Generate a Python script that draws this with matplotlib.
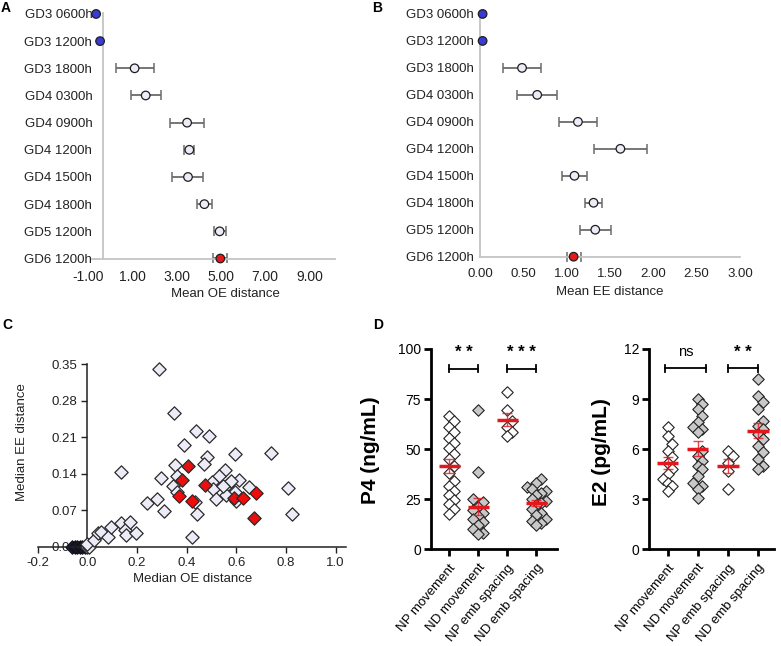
import numpy as np
import matplotlib
matplotlib.use('Agg')
import matplotlib.pyplot as plt

plt.rcParams.update({"font.family": ["Liberation Sans", "DejaVu Sans"], "font.size": 9})

W, H = 781, 646

# --- A/B: mean distances per stage ---
stages = ['GD3 0600h', 'GD3 1200h', 'GD3 1800h', 'GD4 0300h', 'GD4 0900h',
          'GD4 1200h', 'GD4 1500h', 'GD4 1800h', 'GD5 1200h', 'GD6 1200h']
stage_kind = ['pre', 'pre', 'mid', 'mid', 'mid', 'mid', 'mid', 'mid', 'mid', 'end']
oe_mean = [-0.63, -0.45, 1.11, 1.61, 3.48, 3.58, 3.52, 4.26, 4.95, 4.98]
oe_err = [0, 0, 0.86, 0.68, 0.75, 0.22, 0.70, 0.35, 0.27, 0.32]
ee_mean = [0.03, 0.03, 0.485, 0.66, 1.13, 1.62, 1.09, 1.31, 1.33, 1.08]
ee_err = [0, 0, 0.22, 0.23, 0.22, 0.31, 0.145, 0.10, 0.18, 0.08]

# --- C: median OE vs median EE per embryo ---
oe_light = [0.29, 0.35, 0.439, 0.49, 0.389, 0.596, 0.738, 0.483, 0.47, 0.354, 0.136,
            0.553, 0.362, 0.295, 0.53, 0.61, 0.502, 0.346, 0.568, 0.651, 0.809, 0.507,
            0.595, 0.558, 0.36, 0.279, 0.518, 0.599, 0.239, 0.435, 0.31, 0.442, 0.824,
            0.421, 0.58, 0.545,
            0.0, 0.008, 0.0, 0.028, 0.042, 0.055, 0.082, 0.096, 0.136, 0.15, 0.17,
            0.157, 0.197]
ee_light = [0.341, 0.256, 0.222, 0.213, 0.196, 0.177, 0.179, 0.172, 0.159, 0.156, 0.144,
            0.147, 0.136, 0.131, 0.136, 0.128, 0.124, 0.117, 0.12, 0.114, 0.113, 0.111,
            0.105, 0.10, 0.105, 0.091, 0.091, 0.088, 0.084, 0.086, 0.069, 0.063, 0.063,
            0.019, 0.126, 0.117,
            0.0, 0.0, 0.006, 0.013, 0.026, 0.029, 0.019, 0.038, 0.045, 0.032, 0.048,
            0.022, 0.026]
oe_red = [0.407, 0.383, 0.472, 0.369, 0.423, 0.592, 0.628, 0.68, 0.672]
ee_red = [0.155, 0.128, 0.119, 0.097, 0.088, 0.093, 0.093, 0.104, 0.056]
oe_dark = [-0.06, -0.05, -0.04, -0.03, -0.02, -0.01]
ee_dark = [0.0, 0.0, 0.0, 0.0, 0.0, 0.0]

# --- D: hormone levels ---
groups = ['NP movement', 'ND movement', 'NP emb spacing', 'ND emb spacing']
group_fill = ['white', '#c8c8c8', 'white', '#c8c8c8']
p4_np_mov = [66.7, 64.2, 61, 58.5, 55.8, 53.3, 50.8, 47.5, 45, 41.7, 38, 34.3, 31.7,
             29.2, 27.2, 24.7, 22.5, 20.2, 17.7]
p4_nd_mov = [69.5, 38.5, 25, 23.5, 21, 19.5, 18, 16.5, 15, 13.5, 12, 10, 8, 7.5]
p4_np_emb = [78.5, 69.5, 64, 61, 58.5, 56.5]
p4_nd_emb = [35, 33, 31, 30, 29, 28, 27, 25, 24, 23, 22, 20, 18, 17, 15, 14, 13, 12]
e2_np_mov = [7.3, 6.8, 6.3, 5.9, 5.5, 5.2, 4.8, 4.5, 4.2, 4.0, 3.8, 3.5]
e2_nd_mov = [9.0, 8.7, 8.4, 8.0, 7.6, 7.3, 7.2, 7.0, 5.9, 5.6, 5.3, 5.0, 4.8, 4.4,
             4.0, 3.8, 3.6, 3.1]
e2_np_emb = [5.9, 5.6, 5.2, 4.7, 3.6]
e2_nd_emb = [10.2, 9.2, 8.8, 8.4, 7.7, 7.4, 7.2, 6.9, 6.6, 6.2, 5.8, 5.4, 5.0, 4.8]
p4_sig = [(0, 1, '**'), (2, 3, '***')]
e2_sig = [(-0.09, 1.27, 'ns'), (2, 3, '**')]

KIND_COL = {'pre': '#3a3ad6', 'mid': '#ececf8', 'end': '#e3171c'}
RED = '#e3171c'


def box(x0, y0, x1, y1):
    # pixel rectangle -> figure fraction
    return [x0 / W, 1 - y1 / H, (x1 - x0) / W, (y1 - y0) / H]


def ftext(x, y, s, **kw):
    fig.text(x / W, 1 - y / H, s, **kw)


def swarm(vals, dy, step):
    vals = np.asarray(vals, float)
    offs = np.zeros(len(vals))
    placed = []
    for i in np.argsort(vals):
        for k in [0, 1, -1, 2, -2, 3, -3]:
            o = k * step
            if all(abs(vals[i] - vals[j]) >= dy or abs(o - offs[j]) >= step * 0.99 for j in placed):
                break
        offs[i] = o
        placed.append(i)
    return offs


fig = plt.figure(figsize=(W / 100, H / 100), dpi=100)

# ---------------- A & B ----------------
for rect, mean, err, xlim, ycross, xbounds, xticks, tsize, ypad, xlab, lab_xy in [
    (box(87.9, 12.6, 334.8, 258.5), oe_mean, oe_err, (-1, 10.15), -0.3, (-0.8, 10.15),
     [-1, 1, 3, 5, 7, 9], 10, 8, 'Mean OE distance', (225, 294)),
    (box(480, 12.6, 740, 256.7), ee_mean, ee_err, (0, 3.0), 0, (0, 3.0),
     np.arange(0, 3.01, 0.5), 9.5, 4.5, 'Mean EE distance', (610, 292)),
]:
    ax = fig.add_axes(rect)
    yy = np.arange(len(stages))
    m = np.array(mean)
    e = np.array(err)
    has = e > 0
    ax.errorbar(m[has], yy[has], xerr=e[has], fmt='none', ecolor='#6b6b6b',
                elinewidth=1.3, capsize=3.5, capthick=1.1, clip_on=False, zorder=2)
    ax.scatter(m, yy, s=38, c=[KIND_COL[k] for k in stage_kind], edgecolors='#1e1e1e',
               linewidths=0.9, zorder=3, clip_on=False)
    ax.set_xlim(*xlim)
    ax.set_ylim(len(stages) - 1, -0.05)
    ax.spines[['top', 'right']].set_visible(False)
    ax.spines['left'].set_position(('data', ycross))
    ax.spines['bottom'].set_bounds(*xbounds)
    for s in ['left', 'bottom']:
        ax.spines[s].set_color('#c4c4c4')
        ax.spines[s].set_linewidth(1.3)
    ax.set_yticks(yy, stages)
    ax.set_xticks(xticks, ['%.2f' % t for t in xticks])
    ax.tick_params(axis='y', length=0, pad=ypad, labelsize=9.5, labelcolor='#222222')
    ax.tick_params(axis='x', length=0, pad=8, labelsize=tsize, labelcolor='#222222')
    ftext(lab_xy[0], lab_xy[1], xlab, ha='center', va='center', fontsize=9.5, color='#222222')

# ---------------- C ----------------
axc = fig.add_axes(box(37.7, 364.3, 345.5, 546.7))
axc.scatter(oe_light, ee_light, marker='D', s=46, facecolor='#ececf8', edgecolor='#2a2a2a',
            linewidths=0.9, zorder=3, clip_on=False)
axc.scatter(oe_dark, ee_dark, marker='D', s=46, facecolor='#1c1c4a', edgecolor='#111111',
            linewidths=0.9, zorder=2, clip_on=False)
axc.scatter(oe_red, ee_red, marker='D', s=46, facecolor='#ee0d0d', edgecolor='#2a2a2a',
            linewidths=0.9, zorder=4, clip_on=False)
axc.set_xlim(-0.2, 1.04)
axc.set_ylim(0, 0.35)
axc.spines[['top', 'right']].set_visible(False)
axc.spines['left'].set_position(('data', 0))
for s in ['left', 'bottom']:
    axc.spines[s].set_color('#222222')
    axc.spines[s].set_linewidth(1.1)
xt = np.round(np.arange(-0.2, 1.01, 0.2), 1)
yt = np.round(np.arange(0, 0.351, 0.07), 2)
axc.set_xticks(xt, ['%.1f' % t for t in xt])
axc.set_yticks(yt, ['%.2f' % t for t in yt])
axc.tick_params(length=4, width=1, color='#222222', labelsize=9.5, labelcolor='#222222')
ftext(192.7, 579.3, 'Median OE distance', ha='center', va='center', fontsize=9.5, color='#222222')
ftext(21.7, 441.7, 'Median EE distance', ha='center', va='center', fontsize=9.5,
      color='#222222', rotation=90)

# ---------------- D ----------------
for rect, series, ylim, yticks, dy, sig, yb, ytx, tick_dy, ylab, lab_xy in [
    (box(430.7, 349, 557.3, 549.3), [p4_np_mov, p4_nd_mov, p4_np_emb, p4_nd_emb],
     (-0.63, 3.72), [0, 25, 50, 75, 100], 4.2, p4_sig, 90.2, 98.5, 1.8,
     'P4 (ng/mL)', (370, 450)),
    (box(649, 349, 774, 549.3), [e2_np_mov, e2_nd_mov, e2_np_emb, e2_nd_emb],
     (-0.62, 3.54), [0, 3, 6, 9, 12], 0.5, e2_sig, 10.85, 11.8, 0.22,
     'E2 (pg/mL)', (601.7, 452)),
]:
    ax = fig.add_axes(rect)
    for i, vals in enumerate(series):
        v = np.array(vals, float)
        ax.scatter(i + swarm(v, dy, 0.16), v, marker='D', s=34, facecolor=group_fill[i],
                   edgecolor='#222222', linewidths=0.8, zorder=2, clip_on=False)
        mu = v.mean()
        sem = v.std(ddof=1) / np.sqrt(len(v))
        ax.errorbar(i, mu, yerr=sem, fmt='none', ecolor=RED, elinewidth=1, capsize=3.5,
                    capthick=1, zorder=3, alpha=0.8)
        ax.plot([i - 0.36, i + 0.36], [mu, mu], color=RED, lw=2.5, zorder=4,
                solid_capstyle='butt')
    ax.set_xlim(*ylim)
    ax.set_ylim(0, yticks[-1])
    ax.spines[['top', 'right']].set_visible(False)
    for s in ['left', 'bottom']:
        ax.spines[s].set_linewidth(2)
    ax.set_yticks(yticks)
    ax.set_xticks(range(len(groups)))
    ax.set_xticklabels(groups, rotation=50, ha='right', rotation_mode='anchor', fontsize=9.5)
    ax.tick_params(length=5, width=2, labelsize=10, pad=2)
    ax.tick_params(axis='x', labelsize=9.5, pad=4)
    for x0, x1, lab in sig:
        ax.plot([x0, x1], [yb, yb], color='black', lw=1.3, clip_on=False)
        ax.plot([x0, x0], [yb - tick_dy, yb + tick_dy], color='black', lw=1.3, clip_on=False)
        ax.plot([x1, x1], [yb - tick_dy, yb + tick_dy], color='black', lw=1.3, clip_on=False)
        if lab == 'ns':
            ax.text((x0 + x1) / 2, ytx, lab, ha='center', va='center', fontsize=10.5)
        else:
            ax.text((x0 + x1) / 2, ytx, ' '.join(lab), ha='center', va='center',
                    fontsize=12, fontweight='bold')
    ftext(lab_xy[0], lab_xy[1], ylab, ha='center', va='center', rotation=90,
          fontsize=15, fontweight='bold')

# panel letters
for x, y, s in [(6, 8, 'A'), (377, 8, 'B'), (7, 325, 'C'), (378, 325, 'D')]:
    ftext(x, y, s, ha='center', va='center', fontsize=10, fontweight='bold')

fig.savefig('out.png', dpi=100, facecolor='white')
